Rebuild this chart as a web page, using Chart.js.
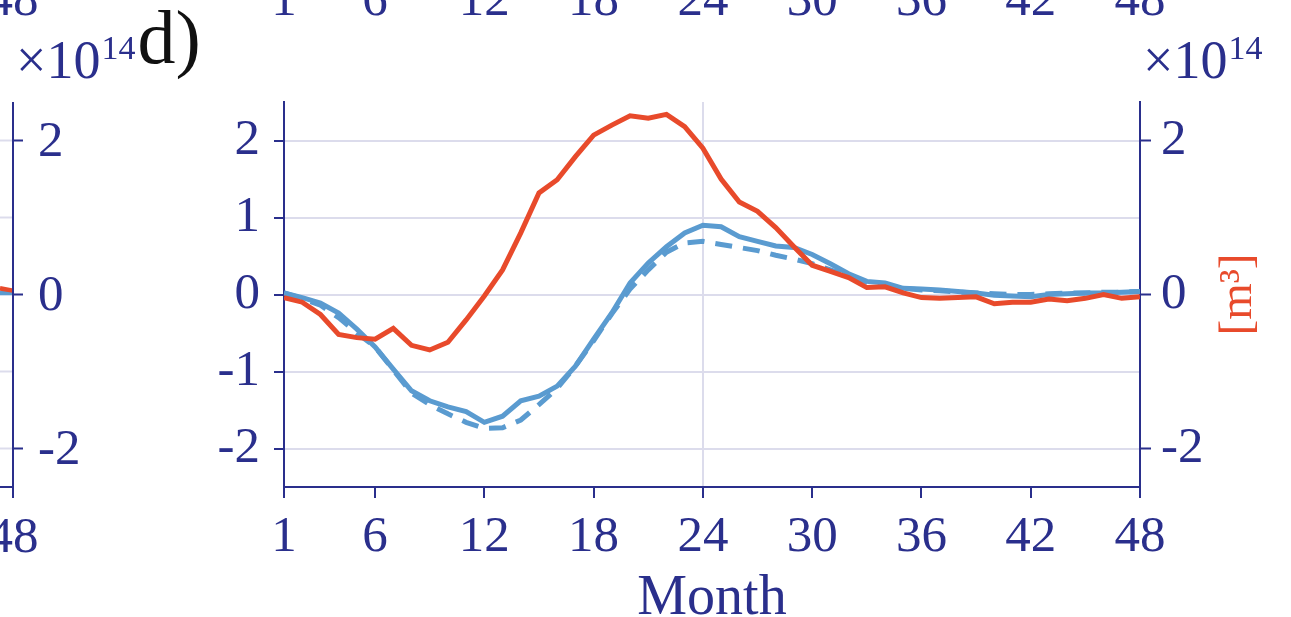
<!DOCTYPE html>
<html>
<head>
<meta charset="utf-8">
<script src="https://cdn.jsdelivr.net/npm/chart.js@4.4.0/dist/chart.umd.min.js"></script>
<style>
  html, body { margin: 0; padding: 0; background: #fff; }
  .ChartWrapper { width: 1291px; height: 617px; position: relative; }
</style>
</head>
<body>
<div class="ChartWrapper">
  <canvas id="myChart" width="1291" height="617"></canvas>
</div>
<script>
// months on the x axis
const months = [1, 2, 3, 4, 5, 6, 7, 8, 9, 10, 11, 12, 13, 14, 15, 16, 17, 18, 19, 20, 21, 22, 23, 24,
  25, 26, 27, 28, 29, 30, 31, 32, 33, 34, 35, 36, 37, 38, 39, 40, 41, 42, 43, 44, 45, 46, 47, 48];

// values in units of 1e14 m^3
const redSeries = [-0.04, -0.10, -0.26, -0.52, -0.56, -0.58, -0.44, -0.66, -0.72, -0.62, -0.33, -0.02,
  0.32, 0.80, 1.32, 1.49, 1.79, 2.07, 2.20, 2.32, 2.29, 2.34, 2.18, 1.90,
  1.50, 1.20, 1.08, 0.87, 0.62, 0.38, 0.30, 0.22, 0.09, 0.10, 0.02, -0.04,
  -0.05, -0.04, -0.03, -0.12, -0.10, -0.10, -0.06, -0.08, -0.05, 0.00, -0.05, -0.03];

const blueSeries = [0.02, -0.04, -0.11, -0.24, -0.45, -0.68, -0.97, -1.25, -1.38, -1.46, -1.52, -1.66,
  -1.58, -1.38, -1.32, -1.19, -0.93, -0.58, -0.24, 0.15, 0.41, 0.62, 0.80, 0.90,
  0.88, 0.75, 0.69, 0.63, 0.61, 0.52, 0.40, 0.27, 0.17, 0.15, 0.08, 0.07,
  0.06, 0.04, 0.02, -0.01, -0.02, -0.03, 0.00, 0.01, 0.02, 0.02, 0.03, 0.04];

const blueDashedSeries = [0.02, -0.05, -0.14, -0.30, -0.50, -0.68, -0.98, -1.28, -1.43, -1.55, -1.66, -1.74,
  -1.73, -1.63, -1.43, -1.22, -0.93, -0.60, -0.25, 0.07, 0.32, 0.55, 0.67, 0.69,
  0.65, 0.61, 0.57, 0.51, 0.46, 0.40, 0.32, 0.24, 0.16, 0.12, 0.08, 0.06,
  0.05, 0.03, 0.02, 0.01, 0.00, 0.00, 0.01, 0.02, 0.02, 0.03, 0.03, 0.04];

// tick labels
const monthTicks = [1, 6, 12, 18, 24, 30, 36, 42, 48];
const leftTicks = [-2, -1, 0, 1, 2];
const rightTicks = [-2, 0, 2];

// end of the neighbouring panel, just visible at the left edge
const prevPanelTicks = [-2, 0, 2];
const prevPanelEnd = [0.05, 0.02];

const axisColor = '#2a2f8c';
const gridColor = '#dcdcec';
const redColor = '#e84a2b';
const blueColor = '#5a9bd0';
const serif = "'Liberation Serif', 'DejaVu Serif', serif";
const tickSize = 51;

const toXY = vals => months.map((m, i) => ({ x: m, y: vals[i] }));
const fmt = v => (v < 0 ? '-' + Math.abs(v) : String(v));

const decorations = {
  id: 'decorations',
  afterDraw(chart) {
    const { ctx } = chart;
    const x = chart.scales.x;
    const y = chart.scales.y;
    ctx.save();

    // previous panel: right axis at x=13
    const ax = 13;
    ctx.lineWidth = 2;
    ctx.strokeStyle = gridColor;
    leftTicks.forEach(v => {
      const py = y.getPixelForValue(v);
      ctx.beginPath(); ctx.moveTo(0, py); ctx.lineTo(ax, py); ctx.stroke();
    });
    ctx.lineWidth = 4.5;
    ctx.strokeStyle = blueColor;
    ctx.beginPath(); ctx.moveTo(0, y.getPixelForValue(prevPanelEnd[1])); ctx.lineTo(ax, y.getPixelForValue(prevPanelEnd[1])); ctx.stroke();
    ctx.strokeStyle = redColor;
    ctx.beginPath(); ctx.moveTo(0, y.getPixelForValue(prevPanelEnd[0] + 0.03)); ctx.lineTo(ax, y.getPixelForValue(prevPanelEnd[0])); ctx.stroke();

    ctx.strokeStyle = axisColor;
    ctx.lineWidth = 2;
    ctx.beginPath();
    ctx.moveTo(ax, y.top); ctx.lineTo(ax, y.bottom + 11);
    ctx.moveTo(0, y.bottom); ctx.lineTo(ax, y.bottom);
    prevPanelTicks.forEach(v => {
      const py = y.getPixelForValue(v);
      ctx.moveTo(ax, py); ctx.lineTo(ax + 10, py);
    });
    ctx.stroke();

    ctx.fillStyle = axisColor;
    ctx.font = tickSize + 'px ' + serif;
    ctx.textAlign = 'left';
    ctx.textBaseline = 'middle';
    prevPanelTicks.forEach(v => ctx.fillText(fmt(v), 38, y.getPixelForValue(v) + 2));
    ctx.textAlign = 'center';
    ctx.textBaseline = 'alphabetic';
    ctx.fillText('48', ax, 552);

    // x labels of the panel above, cut off by the top edge
    ctx.fillText('48', ax, 15);
    monthTicks.forEach(v => ctx.fillText(String(v), x.getPixelForValue(v), 15));

    // exponent labels
    const drawExp = (left, base) => {
      ctx.textAlign = 'left';
      ctx.font = '54px ' + serif;
      ctx.fillText('\u00d710', left, base);
      const w = ctx.measureText('\u00d710').width;
      ctx.font = '34px ' + serif;
      ctx.fillText('14', left + w + 1, base - 19);
      return left + w + 1 + ctx.measureText('14').width;
    };
    const end = drawExp(16, 78);
    drawExp(1143, 78);

    // panel letter
    ctx.fillStyle = '#111';
    ctx.font = '76px ' + serif;
    ctx.textAlign = 'left';
    ctx.fillText('d)', end + 2, 63);

    // unit label of the right axis
    ctx.save();
    ctx.translate(1251, y.getPixelForValue(0));
    ctx.rotate(-Math.PI / 2);
    ctx.fillStyle = redColor;
    ctx.font = '47px ' + serif;
    ctx.textAlign = 'center';
    ctx.textBaseline = 'alphabetic';
    ctx.fillText('[m\u00b3]', 0, 0);
    ctx.restore();

    ctx.restore();
  }
};

new Chart(document.getElementById('myChart').getContext('2d'), {
  type: 'line',
  data: {
    datasets: [
      { label: 'red', data: toXY(redSeries), borderColor: redColor, borderWidth: 5, pointRadius: 0, tension: 0 },
      { label: 'blue', data: toXY(blueSeries), borderColor: blueColor, borderWidth: 5, pointRadius: 0, tension: 0 },
      { label: 'blue dashed', data: toXY(blueDashedSeries), borderColor: blueColor, borderWidth: 5, borderDash: [17, 11], pointRadius: 0, tension: 0 }
    ]
  },
  options: {
    responsive: false,
    animation: false,
    devicePixelRatio: 1,
    layout: { padding: { top: 102, left: 0, right: 0, bottom: 0 } },
    plugins: { legend: { display: false }, tooltip: { enabled: false } },
    scales: {
      x: {
        type: 'linear',
        min: 1,
        max: 48,
        afterBuildTicks: s => { s.ticks = monthTicks.map(v => ({ value: v })); },
        afterFit: s => { s.height = 130; },
        grid: {
          color: c => (c.tick && c.tick.value === 24 ? gridColor : 'rgba(0,0,0,0)'),
          lineWidth: 2,
          tickColor: axisColor,
          tickLength: 11,
          tickWidth: 2
        },
        border: { color: axisColor, width: 2 },
        ticks: { color: axisColor, font: { family: serif, size: tickSize }, padding: 9, maxRotation: 0, autoSkip: false, callback: v => String(v) },
        title: { display: true, text: 'Month', color: axisColor, font: { family: serif, size: 56, lineHeight: 0.65 }, padding: { top: 0, bottom: 0 } }
      },
      y: {
        position: 'left',
        min: -2.5,
        max: 2.5,
        afterBuildTicks: s => { s.ticks = leftTicks.map(v => ({ value: v })); },
        afterFit: s => { s.width = 284; },
        grid: { color: gridColor, lineWidth: 2, tickColor: axisColor, tickLength: 10, tickWidth: 2 },
        border: { color: axisColor, width: 2 },
        ticks: { color: axisColor, font: { family: serif, size: tickSize }, padding: 14, callback: fmt }
      },
      y2: {
        position: 'right',
        min: -2.5,
        max: 2.5,
        afterBuildTicks: s => { s.ticks = rightTicks.map(v => ({ value: v })); },
        afterFit: s => { s.width = 151; },
        grid: { drawOnChartArea: false, tickColor: axisColor, tickLength: 11, tickWidth: 2 },
        border: { color: axisColor, width: 2 },
        ticks: { color: axisColor, font: { family: serif, size: tickSize }, padding: 10, callback: fmt }
      }
    }
  },
  plugins: [decorations]
});
</script>
</body>
</html>
